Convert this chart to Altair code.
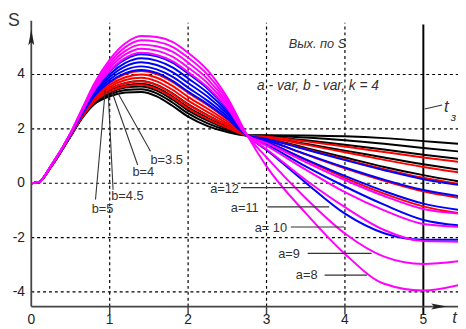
import altair as alt
import pandas as pd

# ---------------- data ----------------
T = [0, 0.1, 0.25, 0.5, 0.65, 0.8, 1.0, 1.2, 1.4, 1.6, 1.8, 2.0, 2.25, 2.5, 2.75,
     3.0, 3.5, 4.0, 4.5, 5.0, 5.45]

BLACK_A12 = [0, 0.05, 0.6, 1.72, 2.40, 2.90, 3.20, 3.34, 3.36, 3.20, 2.85, 2.45, 2.10, 1.88, 1.76, 1.77, 1.76, 1.73, 1.66, 1.55, 1.45]
BLACK_A11 = [0, 0.05, 0.6, 1.73, 2.42, 2.94, 3.27, 3.43, 3.46, 3.31, 2.97, 2.57, 2.20, 1.94, 1.76, 1.75, 1.68, 1.58, 1.45, 1.30, 1.17]
BLACK_A10 = [0, 0.05, 0.6, 1.73, 2.43, 2.97, 3.33, 3.52, 3.56, 3.41, 3.08, 2.68, 2.30, 2.00, 1.76, 1.72, 1.58, 1.42, 1.24, 1.05, 0.90]
BLACK_A9 = [0, 0.05, 0.6, 1.74, 2.45, 3.01, 3.40, 3.60, 3.66, 3.52, 3.19, 2.79, 2.40, 2.07, 1.76, 1.69, 1.45, 1.20, 0.95, 0.70, 0.50]
BLACK_A8 = [0, 0.05, 0.6, 1.75, 2.47, 3.05, 3.46, 3.69, 3.76, 3.62, 3.31, 2.91, 2.50, 2.13, 1.76, 1.65, 1.30, 0.95, 0.60, 0.30, 0.07]
RED_A12 = [0, 0.05, 0.6, 1.74, 2.44, 2.99, 3.37, 3.57, 3.62, 3.47, 3.15, 2.75, 2.36, 2.04, 1.76, 1.71, 1.54, 1.35, 1.15, 0.95, 0.79]
RED_A11 = [0, 0.05, 0.6, 1.74, 2.47, 3.04, 3.46, 3.68, 3.75, 3.61, 3.29, 2.89, 2.49, 2.12, 1.76, 1.68, 1.42, 1.14, 0.86, 0.60, 0.40]
RED_A10 = [0, 0.05, 0.61, 1.75, 2.49, 3.09, 3.54, 3.80, 3.88, 3.75, 3.44, 3.04, 2.62, 2.20, 1.76, 1.64, 1.26, 0.88, 0.52, 0.20, -0.02]
RED_A9 = [0, 0.05, 0.61, 1.76, 2.51, 3.13, 3.62, 3.90, 4.00, 3.88, 3.58, 3.18, 2.74, 2.27, 1.77, 1.58, 1.06, 0.55, 0.09, -0.30, -0.54]
RED_A8 = [0, 0.05, 0.61, 1.77, 2.53, 3.18, 3.70, 4.02, 4.13, 4.02, 3.73, 3.33, 2.87, 2.35, 1.77, 1.52, 0.85, 0.20, -0.38, -0.85, -1.10]
BLUE_A12 = [0, 0.05, 0.62, 1.77, 2.54, 3.19, 3.73, 4.05, 4.17, 4.06, 3.77, 3.37, 2.91, 2.38, 1.77, 1.63, 1.24, 0.85, 0.48, 0.15, -0.06]
BLUE_A11 = [0, 0.05, 0.62, 1.78, 2.56, 3.24, 3.82, 4.17, 4.30, 4.19, 3.92, 3.52, 3.03, 2.46, 1.77, 1.58, 1.07, 0.58, 0.13, -0.25, -0.47]
BLUE_A10 = [0, 0.05, 0.62, 1.79, 2.59, 3.30, 3.91, 4.30, 4.45, 4.35, 4.09, 3.69, 3.18, 2.55, 1.77, 1.52, 0.88, 0.27, -0.29, -0.75, -0.98]
BLUE_A9 = [0, 0.05, 0.62, 1.80, 2.61, 3.35, 4.01, 4.43, 4.60, 4.51, 4.26, 3.86, 3.33, 2.64, 1.77, 1.43, 0.62, -0.12, -0.79, -1.35, -1.55]
BLUE_A8 = [0, 0.05, 0.63, 1.81, 2.64, 3.41, 4.11, 4.56, 4.75, 4.67, 4.44, 4.04, 3.48, 2.74, 1.77, 1.22, 0.02, -1.12, -1.84, -2.08, -2.08]
MAG_A12 = [0, 0.05, 0.63, 1.81, 2.64, 3.42, 4.14, 4.61, 4.80, 4.72, 4.49, 4.09, 3.53, 2.77, 1.77, 1.48, 0.78, 0.12, -0.47, -0.95, -1.12]
MAG_A11 = [0, 0.05, 0.63, 1.82, 2.67, 3.48, 4.24, 4.74, 4.95, 4.88, 4.66, 4.26, 3.68, 2.86, 1.78, 1.38, 0.50, -0.33, -1.00, -1.50, -1.60]
MAG_A10 = [0, 0.05, 0.64, 1.83, 2.70, 3.53, 4.34, 4.87, 5.10, 5.04, 4.84, 4.44, 3.83, 2.95, 1.78, 1.25, 0.12, -0.88, -1.72, -2.13, -2.15]
MAG_A9 = [0, 0.05, 0.64, 1.84, 2.72, 3.59, 4.44, 5.01, 5.26, 5.21, 5.02, 4.62, 3.99, 3.05, 1.78, 0.95, -0.55, -1.85, -2.70, -2.97, -2.87]
MAG_A8 = [0, 0.05, 0.64, 1.85, 2.75, 3.65, 4.55, 5.15, 5.42, 5.38, 5.20, 4.80, 4.15, 3.15, 1.78, 0.62, -1.10, -2.60, -3.70, -3.95, -3.75]

SERIES = [
    ("b5a12", "#000000", BLACK_A12), ("b5a11", "#000000", BLACK_A11), ("b5a10", "#000000", BLACK_A10),
    ("b5a9", "#000000", BLACK_A9), ("b5a8", "#000000", BLACK_A8),
    ("b45a12", "#ff0000", RED_A12), ("b45a11", "#ff0000", RED_A11), ("b45a10", "#ff0000", RED_A10),
    ("b45a9", "#ff0000", RED_A9), ("b45a8", "#ff0000", RED_A8),
    ("b4a12", "#0000ff", BLUE_A12), ("b4a11", "#0000ff", BLUE_A11), ("b4a10", "#0000ff", BLUE_A10),
    ("b4a9", "#0000ff", BLUE_A9), ("b4a8", "#0000ff", BLUE_A8),
    ("b35a12", "#ff00ff", MAG_A12), ("b35a11", "#ff00ff", MAG_A11), ("b35a10", "#ff00ff", MAG_A10),
    ("b35a9", "#ff00ff", MAG_A9), ("b35a8", "#ff00ff", MAG_A8),
]

X_TICKS = [0, 1, 2, 3, 4, 5]
Y_TICKS = [4, 2, 0, -2, -4]
V_GRID = [1, 2, 3, 4]

B_LABELS = ["b=5", "b=4.5", "b=4", "b=3.5"]
B_LABEL_T = [0.77, 1.02, 1.29, 1.52]
B_LABEL_S = [-0.96, -0.49, 0.42, 0.86]
B_LINE_T1 = [0.944, 0.98, 1.019, 1.106]
B_LINE_S1 = [3.45, 3.38, 3.45, 3.31]
B_LINE_T2 = [0.819, 1.043, 1.357, 1.52]
B_LINE_S2 = [-0.6, -0.24, 0.67, 1.18]

A_LABELS = ["a=12", "a=11", "a= 10", "a=9", "a=8"]
A_LABEL_T = [2.648, 2.90, 3.262, 3.425, 3.65]
A_LABEL_S = [-0.2, -0.93, -1.64, -2.62, -3.38]
A_LINE_T1 = [2.674, 3.01, 3.31, 3.525, 3.74]
A_LINE_T2 = [3.59, 3.8, 3.99, 4.34, 4.28]
A_LINE_S = [-0.16, -0.87, -1.61, -2.58, -3.38]

# ---------------- layout ----------------
W, H = 458, 321
X_DOMAIN = [-0.297, 5.442]
Y_DOMAIN = [-5.26, 6.345]
AXIS_Y = -4.537
TOP_Y = 5.98
FONT = "Liberation Sans"

xs = alt.Scale(domain=X_DOMAIN, nice=False, zero=False)
ys = alt.Scale(domain=Y_DOMAIN, nice=False, zero=False)


def xq(f):
    return alt.X(f, type="quantitative", scale=xs, axis=None)


def yq(f):
    return alt.Y(f, type="quantitative", scale=ys, axis=None)


rows = []
for name, col, vals in SERIES:
    for t, s in zip(T, vals):
        rows.append({"series": name, "color": col, "t": t, "S": s})
curves_df = pd.DataFrame(rows)

curves = alt.Chart(curves_df).mark_line(strokeWidth=2, interpolate="monotone").encode(
    x=xq("t"), y=yq("S"),
    color=alt.Color("color:N", scale=None),
    detail="series:N",
)

hgrid = alt.Chart(pd.DataFrame({"y": Y_TICKS, "x": [0] * len(Y_TICKS), "x2": [X_DOMAIN[1]] * len(Y_TICKS)})).mark_rule(
    color="#000000", strokeWidth=1.2, strokeDash=[3, 3]
).encode(x=xq("x"), x2="x2:Q", y=yq("y"))

vgrid = alt.Chart(pd.DataFrame({"x": V_GRID, "y": [AXIS_Y] * 4, "y2": [5.91] * 4})).mark_rule(
    color="#000000", strokeWidth=1.2, strokeDash=[3, 3]
).encode(x=xq("x"), y=yq("y"), y2="y2:Q")

t3_line = alt.Chart(pd.DataFrame({"x": [5], "y": [-4.83], "y2": [5.84]})).mark_rule(
    color="#000000", strokeWidth=2
).encode(x=xq("x"), y=yq("y"), y2="y2:Q")

yaxis = alt.Chart(pd.DataFrame({"x": [0], "y": [AXIS_Y], "y2": [TOP_Y]})).mark_rule(
    color="#444444", strokeWidth=1.8
).encode(x=xq("x"), y=yq("y"), y2="y2:Q")

xaxis = alt.Chart(pd.DataFrame({"x": [0], "x2": [X_DOMAIN[1]], "y": [AXIS_Y]})).mark_rule(
    color="#444444", strokeWidth=1.8
).encode(x=xq("x"), x2="x2:Q", y=yq("y"))

xticks = alt.Chart(pd.DataFrame({"x": X_TICKS[1:5], "y": [AXIS_Y] * 4, "y2": [-4.83] * 4})).mark_rule(
    color="#444444", strokeWidth=1.5
).encode(x=xq("x"), y=yq("y"), y2="y2:Q")

up_arrow = alt.Chart(pd.DataFrame({"x": [0], "y": [5.37]})).mark_point(
    shape="M0,-1L0.38,1L0,0.6L-0.38,1Z", filled=True, size=256, color="#222222", opacity=1
).encode(x=xq("x"), y=yq("y"))

right_arrow = alt.Chart(pd.DataFrame({"x": [5.2], "y": [AXIS_Y]})).mark_point(
    shape="M1,0L-1,-0.38L-0.6,0L-1,0.38Z", filled=True, size=256, color="#222222", opacity=1
).encode(x=xq("x"), y=yq("y"))

xlabels = alt.Chart(pd.DataFrame({"x": X_TICKS, "y": [-5.05] * 6, "txt": [str(v) for v in X_TICKS]})).mark_text(
    font=FONT, fontSize=14, color="#222222", baseline="middle", align="center"
).encode(x=xq("x"), y=yq("y"), text="txt:N")

ylabels = alt.Chart(pd.DataFrame({"x": [-0.08] * 5, "y": Y_TICKS, "txt": [str(v) for v in Y_TICKS]})).mark_text(
    font=FONT, fontSize=14, color="#222222", baseline="middle", align="right"
).encode(x=xq("x"), y=yq("y"), text="txt:N")

s_label = alt.Chart(pd.DataFrame({"x": [-0.222], "y": [5.97], "txt": ["S"]})).mark_text(
    font=FONT, fontSize=18, color="#333333", baseline="middle", align="center"
).encode(x=xq("x"), y=yq("y"), text="txt:N")

t_label = alt.Chart(pd.DataFrame({"x": [5.37], "y": [-4.95], "txt": ["t"]})).mark_text(
    font=FONT, fontSize=17, fontStyle="italic", color="#333333", baseline="middle", align="left"
).encode(x=xq("x"), y=yq("y"), text="txt:N")

t3_lead = alt.Chart(pd.DataFrame({"x": [5.016], "x2": [5.24], "y": [2.73], "y2": [2.88]})).mark_rule(
    color="#333333", strokeWidth=1.2
).encode(x=xq("x"), x2="x2:Q", y=yq("y"), y2="y2:Q")

t3_t = alt.Chart(pd.DataFrame({"x": [5.265], "y": [2.82], "txt": ["t"]})).mark_text(
    font=FONT, fontSize=17, fontStyle="italic", color="#333333", baseline="middle", align="left"
).encode(x=xq("x"), y=yq("y"), text="txt:N")

t3_sub = alt.Chart(pd.DataFrame({"x": [5.35], "y": [2.42], "txt": ["з"]})).mark_text(
    font=FONT, fontSize=12, fontStyle="italic", color="#333333", baseline="middle", align="left"
).encode(x=xq("x"), y=yq("y"), text="txt:N")

title1 = alt.Chart(pd.DataFrame({"x": [3.65], "y": [5.12], "txt": ["Вых. по S"]})).mark_text(
    font=FONT, fontSize=13, fontStyle="italic", color="#333333", baseline="middle", align="center"
).encode(x=xq("x"), y=yq("y"), text="txt:N")

title2 = alt.Chart(pd.DataFrame({"x": [3.657], "y": [3.56], "txt": ["a - var, b - var, k = 4"]})).mark_text(
    font=FONT, fontSize=14, fontStyle="italic", color="#333333", baseline="middle", align="center"
).encode(x=xq("x"), y=yq("y"), text="txt:N")

b_leads = alt.Chart(pd.DataFrame({"x": B_LINE_T1, "x2": B_LINE_T2, "y": B_LINE_S1, "y2": B_LINE_S2})).mark_rule(
    color="#333333", strokeWidth=1.1
).encode(x=xq("x"), x2="x2:Q", y=yq("y"), y2="y2:Q")

b_text = alt.Chart(pd.DataFrame({"x": B_LABEL_T, "y": B_LABEL_S, "txt": B_LABELS})).mark_text(
    font=FONT, fontSize=13, color="#333333", baseline="middle", align="left"
).encode(x=xq("x"), y=yq("y"), text="txt:N")

a_leads = alt.Chart(pd.DataFrame({"x": A_LINE_T1, "x2": A_LINE_T2, "y": A_LINE_S})).mark_rule(
    color="#333333", strokeWidth=1.1
).encode(x=xq("x"), x2="x2:Q", y=yq("y"))

a_text = alt.Chart(pd.DataFrame({"x": A_LABEL_T, "y": A_LABEL_S, "txt": A_LABELS})).mark_text(
    font=FONT, fontSize=13, color="#333333", baseline="middle", align="right"
).encode(x=xq("x"), y=yq("y"), text="txt:N")

chart = alt.layer(
    hgrid, vgrid, t3_line, curves, yaxis, xaxis, xticks, up_arrow, right_arrow,
    xlabels, ylabels, s_label, t_label, t3_lead, t3_t, t3_sub, title1, title2,
    b_leads, b_text, a_leads, a_text,
).properties(
    width=W, height=H, autosize=alt.AutoSizeParams(type="none"), padding=0
).configure_view(strokeWidth=0)

chart.save("out.html", embed_options={"renderer": "svg", "actions": False})
